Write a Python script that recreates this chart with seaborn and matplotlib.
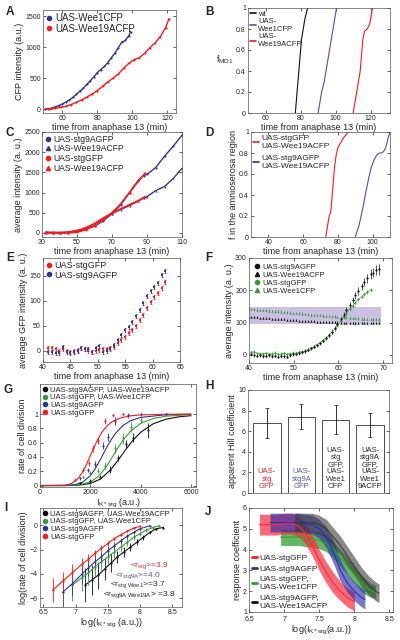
import numpy as np
import pandas as pd
import seaborn as sns
import matplotlib.pyplot as plt
from matplotlib.lines import Line2D

sns.set_style("ticks")
plt.rcParams['font.family'] = ['Liberation Sans', 'DejaVu Sans']
plt.rcParams['mathtext.fontset'] = 'custom'
plt.rcParams['mathtext.rm'] = 'Liberation Sans'
plt.rcParams['mathtext.it'] = 'Liberation Sans:italic'

RED = '#ff1a1a'
BLUE = '#34348f'
GREEN = '#3a9a3a'
BLACK = '#111111'
LAV = '#cbbfe3'

# ---- A: CFP intensity
a_time_wee1 = [50, 52, 54, 56, 58, 60, 62, 64, 66, 68, 70, 72, 74, 76, 78, 80, 82, 84, 86, 88, 90, 92, 94, 96, 98, 99]
a_wee1 = [0, 8, 20, 38, 60, 85, 115, 150, 190, 240, 290, 340, 400, 460, 520, 590, 640, 690, 750, 830, 900, 990, 1080, 1110, 1180, 1250]
a_time_wee19a = [50, 53, 56, 59, 62, 65, 68, 71, 74, 77, 80, 83, 86, 89, 92, 95, 98, 101, 104, 107, 110, 113, 116, 119, 121]
a_wee19a = [0, 5, 15, 30, 50, 75, 110, 150, 195, 245, 300, 370, 440, 500, 570, 660, 740, 800, 830, 900, 990, 1070, 1170, 1310, 1460]

# ---- B: fraction MD1
b_wt_t = [77, 77.5, 78, 78.5, 79, 79.5, 80, 80.5, 81.5, 82.5, 84]
b_wt_f = [0, 0.1, 0.2, 0.3, 0.4, 0.5, 0.6, 0.7, 0.8, 0.9, 1.0]
b_wee1_t = [90, 91, 92, 93.5, 94.5, 95.5, 96.5, 97.5, 98.5, 99.5, 100.5]
b_wee1_f = [0, 0.1, 0.2, 0.3, 0.4, 0.5, 0.6, 0.7, 0.8, 0.9, 1.0]
b_wee19a_t = [110, 111, 112, 113, 114, 114.5, 115, 115.5, 116.5, 118, 119.5, 120.5, 121]
b_wee19a_f = [0, 0.1, 0.2, 0.3, 0.4, 0.5, 0.6, 0.7, 0.78, 0.8, 0.85, 0.95, 1.0]

# ---- C: average intensity
c_time_9a = [32, 36, 40, 45, 50, 55, 60, 65, 70, 75, 80, 85, 88, 90, 95, 100, 105, 110]
c_stg9a = [20, 15, 10, 20, 60, 100, 170, 300, 480, 700, 1000, 1300, 1420, 1450, 1620, 1900, 2150, 2420]
c_wee19a_9a = [10, 5, 0, 10, 40, 110, 230, 360, 480, 580, 680, 790, 860, 900, 1050, 1150, 1350, 1600]
c_time_stg = [32, 36, 40, 45, 50, 55, 60, 65, 70, 75, 80, 85, 89]
c_stg = [10, 5, 5, 0, 20, 80, 180, 320, 500, 720, 1000, 1280, 1480]
c_wee19a_stg = [0, 5, 10, 20, 60, 130, 230, 370, 490, 600, 700, 800, 900]

# ---- D: fraction in amnioserosa
d_red_t = [73, 73.5, 74, 75, 75.5, 76, 76.5, 77, 77.5, 78, 79, 80, 81, 82, 83, 84, 85, 86]
d_red_f = [0, 0.05, 0.1, 0.2, 0.22, 0.25, 0.35, 0.45, 0.55, 0.65, 0.78, 0.85, 0.88, 0.91, 0.94, 0.96, 0.98, 1.0]
d_blue_t = [90, 91, 92, 93, 94, 95, 96, 97, 98, 99, 100, 101, 102, 103, 104, 105, 106, 107, 108, 109, 110]
d_blue_f = [0, 0.05, 0.1, 0.17, 0.25, 0.33, 0.42, 0.5, 0.58, 0.65, 0.7, 0.74, 0.77, 0.79, 0.8, 0.8, 0.81, 0.83, 0.88, 0.95, 1.0]

# ---- E: GFP intensity
e_time = [41.0, 41.7, 42.3, 43.0, 43.7, 44.3, 45.0, 45.7, 46.3, 47.0, 47.7, 48.3, 49.0, 49.7, 50.3, 51.0, 51.7,
          52.3, 53.0, 53.7, 54.3, 55.0, 55.7, 56.3, 57.0, 57.7, 58.3, 59.0, 59.7, 60.3, 61.0, 61.7, 62.3]
e_stg = [5, 6, 3, 0, 3, 0, -2, 0, 2, 5, 3, -1, -3, 0, 2, 3, 4, 3, 8, 15, 22, 28, 36, 42, 50, 62, 72, 85, 97,
         108, 116, 125, 138]
e_stg9a = [-2, -3, -4, -4, 8, -2, -4, -3, -1, 5, 3, 3, -3, 6, 10, -2, 0, 5, 12, 22, 32, 42, 48, 58, 70, 82, 95,
           110, 120, 128, 135, 152, 160]
e_err = 4

# ---- F: average intensity, two colours
f_time = [40.5, 41.2, 41.8, 42.5, 43.2, 43.8, 44.5, 45.2, 45.8, 46.5, 47.2, 47.8, 48.5, 49.2, 49.8, 50.5, 51.2,
          51.8, 52.5, 53.2, 53.8, 54.5, 55.2, 55.8, 56.5, 57.2, 57.8, 58.5, 59.2, 59.8, 60.5, 61.2, 61.8, 62.5,
          63.2, 63.8, 64.5, 65.2, 65.8, 66.5, 67.2, 67.8, 68.5, 69.2]
f_stg9a = [2, 0, -2, 0, -3, -2, 0, -4, -2, -5, -3, -4, -6, 0, 2, 4, 6, 8, 12, 16, 20, 25, 30, 36, 44, 52, 62, 72,
           84, 96, 110, 125, 140, 155, 170, 185, 198, 212, 225, 238, 250, 255, 262, 265]
f_stg9a_err = [5] * 25 + [6, 6, 7, 7, 8, 8, 9, 9, 10, 10, 11, 12, 12, 13, 14, 15, 15, 16, 17]
f_wee19a = [118, 117, 116, 115, 115, 114, 113, 112, 112, 111, 110, 110, 109, 108, 108, 107, 106, 106, 105, 105,
            104, 104, 103, 103, 102, 102, 101, 101, 101, 100, 100, 100, 100, 100, 100, 100, 100, 100, 100, 100,
            100, 100, 99, 99]
f_stg = [8, 10, 5, 4, 3, 5, 2, 4, 6, 2, 3, 5, 2, 4, 6, 5, 8, 10, 12, 16, 20, 26, 32, 38, 45, 52, 60, 70, 80, 92,
         105, 118, 130, 142, 152, 162, 172, 180, 188, 195, 202]
f_wee1 = [142, 141, 140, 139, 139, 138, 137, 136, 135, 135, 134, 133, 132, 131, 130, 130, 129, 128, 127, 126,
          125, 124, 124, 123, 122, 121, 120, 119, 119, 118, 117, 116, 116, 115, 114, 114, 113, 112, 112, 111,
          111, 110, 110, 110]
f_band_x = [40, 69.5]
f_band_lo, f_band_hi = 95, 148

# ---- G: rate of cell division
g_red_x = [1400, 1700, 1950, 2100, 2300, 2600, 2900, 3300]
g_red_y = [0.08, 0.22, 0.31, 0.52, 0.63, 0.90, 0.98, 1.0]
g_red_e = [0.02, 0.03, 0.04, 0.05, 0.05, 0.04, 0.02, 0.01]
g_blue_x = [1600, 1900, 2200, 2500, 2700, 3000, 3500, 4000, 5000]
g_blue_y = [0.10, 0.22, 0.30, 0.56, 0.68, 0.90, 0.98, 1.0, 1.0]
g_blue_e = [0.02, 0.03, 0.04, 0.05, 0.05, 0.06, 0.03, 0.01, 0.01]
g_green_x = [1700, 2000, 2300, 2600, 3000, 3300, 3600, 4000, 5000]
g_green_y = [0.12, 0.18, 0.21, 0.28, 0.52, 0.66, 0.82, 0.92, 1.0]
g_green_e = [0.02, 0.03, 0.03, 0.05, 0.06, 0.08, 0.07, 0.05, 0.01]
g_black_x = [1600, 2000, 2400, 2800, 3100, 3400, 3700, 4300]
g_black_y = [0.03, 0.07, 0.12, 0.22, 0.39, 0.58, 0.67, 0.77]
g_black_e = [0.01, 0.02, 0.03, 0.05, 0.04, 0.06, 0.06, 0.10]
g_fit_red_x = [0, 1000, 1250, 1500, 1700, 1900, 2100, 2300, 2500, 2700, 2900, 3200, 3600, 4000, 5000, 6000]
g_fit_red_y = [0, 0.006, 0.028, 0.092, 0.192, 0.336, 0.5, 0.65, 0.766, 0.847, 0.90, 0.946, 0.975, 0.988, 0.997, 0.999]
g_fit_blue_x = [0, 1000, 1400, 1700, 2000, 2200, 2400, 2600, 2800, 3000, 3300, 3600, 4000, 5000, 6000]
g_fit_blue_y = [0, 0.001, 0.013, 0.049, 0.138, 0.237, 0.364, 0.5, 0.627, 0.73, 0.84, 0.907, 0.953, 0.99, 0.998]
g_fit_green_x = [0, 1000, 1500, 2000, 2300, 2600, 2800, 3050, 3300, 3600, 4000, 4500, 5000, 6000]
g_fit_green_y = [0, 0.0004, 0.007, 0.05, 0.122, 0.246, 0.355, 0.5, 0.635, 0.76, 0.87, 0.938, 0.97, 0.991]
g_fit_black_x = [0, 1000, 1500, 2000, 2400, 2800, 3100, 3400, 3700, 4000, 4500, 5000, 5500, 6000]
g_fit_black_y = [0, 0.0003, 0.0045, 0.029, 0.091, 0.217, 0.352, 0.5, 0.636, 0.745, 0.864, 0.927, 0.96, 0.977]

# ---- H: Hill coefficient
h_names = ['UAS-\nstg\nGFP', 'UAS-\nstg9A\nGFP', 'UAS-\nstg\nGFP,\nUAS-\nWee1\nCFP', 'UAS-\nstg9A\nGFP,\nUAS-\nWee1\n9ACFP']
h_values = [6.8, 7.4, 7.1, 6.6]
h_err = [1.5, 1.2, 1.4, 1.2]
h_text_colors = ['#d02a2a', '#5a5aa8', '#333333', '#222222']

# ---- I: log-log
i_red_x = [6.65, 6.8, 6.95, 7.1, 7.2, 7.3, 7.4, 7.5, 7.6, 7.7, 7.8, 7.9, 8.0]
i_red_y = [-5.3, -4.6, -3.9, -3.2, -2.8, -2.3, -1.9, -1.5, -1.1, -0.8, -0.5, -0.25, -0.1]
i_red_e = [1.0, 0.8, 0.7, 0.5, 0.4, 0.3, 0.25, 0.2, 0.15, 0.12, 0.1, 0.08, 0.06]
i_blue_x = [6.8, 6.95, 7.1, 7.2, 7.3, 7.4, 7.5, 7.6, 7.7, 7.8, 7.9, 8.0, 8.15]
i_blue_y = [-5.5, -4.8, -4.0, -3.5, -3.0, -2.6, -2.1, -1.7, -1.3, -0.9, -0.6, -0.3, -0.05]
i_blue_e = [1.2, 1.0, 0.8, 0.7, 0.6, 0.5, 0.4, 0.3, 0.25, 0.2, 0.15, 0.1, 0.05]
i_green_x = [6.95, 7.1, 7.2, 7.3, 7.4, 7.5, 7.6, 7.7, 7.8, 7.9, 8.0, 8.1, 8.2, 8.3]
i_green_y = [-4.9, -4.3, -3.9, -3.4, -3.0, -2.6, -2.2, -1.8, -1.4, -1.0, -0.7, -0.4, -0.2, -0.05]
i_green_e = [1.3, 1.1, 1.0, 0.8, 0.7, 0.6, 0.5, 0.4, 0.3, 0.25, 0.2, 0.15, 0.1, 0.05]
i_black_x = [7.15, 7.25, 7.35, 7.45, 7.55, 7.65, 7.75, 7.85, 7.95, 8.05, 8.15, 8.25, 8.35]
i_black_y = [-4.9, -4.5, -4.1, -3.6, -3.1, -2.6, -2.2, -1.8, -1.4, -1.0, -0.6, -0.3, -0.2]
i_black_e = [1.4, 1.2, 1.1, 0.9, 0.7, 0.5, 0.4, 0.3, 0.25, 0.2, 0.15, 0.1, 0.1]
i_notes = [r'<r$_{\rm stg}$>=3.9', r'<r$_{\rm stg9A}$>=4.0', r'<r$_{\rm stg\ Wee1}$>=3.7', r'<r$_{\rm stg9A\ Wee19A}$> =3.8']

# ---- J: response coefficient bands
j_red_x = [6.65, 6.8, 6.9, 7.0, 7.1, 7.2, 7.3, 7.4, 7.5, 7.6, 7.7, 7.8, 7.9, 8.0]
j_red_mid = [5.2, 5.2, 5.2, 5.25, 5.25, 5.15, 4.8, 4.2, 3.5, 2.9, 2.4, 2.0, 1.7, 1.5]
j_red_hw = [0.5, 0.5, 0.5, 0.5, 0.5, 0.5, 0.5, 0.5, 0.5, 0.5, 0.5, 0.45, 0.45, 0.45]
j_blue_x = [6.8, 6.9, 7.0, 7.1, 7.2, 7.3, 7.4, 7.5, 7.6, 7.7, 7.8, 7.9, 8.0, 8.1, 8.15]
j_blue_mid = [5.3, 5.3, 5.3, 5.3, 5.3, 5.25, 5.2, 5.0, 4.6, 3.9, 3.0, 2.4, 2.0, 1.7, 1.6]
j_blue_hw = [0.45, 0.45, 0.45, 0.45, 0.45, 0.45, 0.45, 0.45, 0.5, 0.55, 0.5, 0.45, 0.45, 0.45, 0.45]
j_green_x = [6.95, 7.0, 7.1, 7.2, 7.3, 7.4, 7.5, 7.6, 7.7, 7.8, 7.9, 8.0, 8.1, 8.2, 8.3]
j_green_mid = [4.6, 4.6, 4.6, 4.6, 4.55, 4.5, 4.45, 4.3, 4.0, 3.6, 3.2, 2.8, 2.4, 2.1, 1.95]
j_green_hw = [0.4, 0.4, 0.4, 0.4, 0.4, 0.4, 0.4, 0.4, 0.4, 0.4, 0.4, 0.4, 0.4, 0.35, 0.3]
j_black_x = [7.15, 7.2, 7.3, 7.4, 7.5, 7.6, 7.7, 7.8, 7.9, 8.0, 8.1, 8.2, 8.3, 8.35]
j_black_mid = [5.3, 5.3, 5.3, 5.3, 5.2, 5.0, 4.6, 4.2, 3.7, 3.2, 2.7, 2.3, 2.0, 1.9]
j_black_hw = [0.45, 0.45, 0.45, 0.45, 0.45, 0.45, 0.45, 0.45, 0.45, 0.45, 0.45, 0.45, 0.45, 0.45]

fig = plt.figure(figsize=(4, 6.4), dpi=100)
TIME = 'time from anaphase 13 (min)'
LS = 6.5


def panel(l, t, r, b):
    ax = fig.add_axes([l / 400, 1 - b / 640, (r - l) / 400, (b - t) / 640])
    ax.tick_params(direction='in', length=2, width=0.5, labelsize=5, pad=1.5, top=True, right=True)
    for s in ax.spines.values():
        s.set_linewidth(0.5)
        s.set_color('#555555')
    return ax


def labels(ax, xl, yl):
    ax.set_xlabel(xl, fontsize=LS, labelpad=0.5)
    ax.set_ylabel(yl, fontsize=LS, labelpad=1)


def leg(ax, handles, names, **kw):
    opts = dict(fontsize=6, frameon=False, handlelength=0.7, handletextpad=0.3,
                labelspacing=0.1, borderaxespad=0.2, borderpad=0.1, loc='upper left')
    opts.update(kw)
    return ax.legend(handles, names, **opts)


def dot(c, m='o', ms=3):
    return Line2D([], [], color=c, marker=m, linestyle='none', markersize=ms)


def seg(c, lw=1.2):
    return Line2D([], [], color=c, lw=lw)


# A
ax = panel(43, 10, 176, 113)
sns.lineplot(x=a_time_wee1, y=a_wee1, ax=ax, color=BLUE, marker='o', markersize=1.5, mew=0, lw=1)
sns.lineplot(x=a_time_wee19a, y=a_wee19a, ax=ax, color=RED, marker='o', markersize=1.5, mew=0, lw=1)
ax.set_xlim(49, 125)
ax.set_ylim(-60, 1600)
ax.set_xticks([60, 80, 100, 120])
ax.set_yticks([0, 500, 1000, 1500])
labels(ax, TIME, 'CFP intensity (a.u.)')
leg(ax, [dot(BLUE), dot(RED)], ['UAS-Wee1CFP', 'UAS-Wee19ACFP'], fontsize=7)

# B
ax = panel(248, 8, 390, 113)
sns.lineplot(x=b_wt_t, y=b_wt_f, ax=ax, color=BLACK, lw=0.8)
sns.lineplot(x=b_wee1_t, y=b_wee1_f, ax=ax, color='#5050a8', lw=0.8)
sns.lineplot(x=b_wee19a_t, y=b_wee19a_f, ax=ax, color=RED, lw=0.8)
ax.set_xlim(50, 131)
ax.set_ylim(0, 1)
ax.set_xticks([60, 80, 100, 120])
ax.set_yticks([0, 0.2, 0.4, 0.6, 0.8, 1])
ax.set_yticklabels(['0', '0.2', '0.4', '0.6', '0.8', '1'])
ax.set_xlabel(TIME, fontsize=LS, labelpad=0.5)
ax.set_ylabel(r'f$_{\rm MD1}$', fontsize=LS, rotation=0)
ax.yaxis.set_label_coords(-0.16, 0.45)
leg(ax, [seg(BLACK), seg('#5050a8'), seg(RED)], ['wt', 'UAS-\nWee1CFP', 'UAS-\nWee19ACFP'],
    fontsize=5.5, labelspacing=0.05)

# C
ax = panel(42, 132, 182, 237)
sns.lineplot(x=c_time_9a, y=c_stg9a, ax=ax, color=BLUE, marker='o', markersize=1.5, mew=0, lw=1)
sns.lineplot(x=c_time_9a, y=c_wee19a_9a, ax=ax, color=BLUE, marker='^', markersize=1.5, mew=0, lw=1)
sns.lineplot(x=c_time_stg, y=c_stg, ax=ax, color=RED, marker='o', markersize=1.5, mew=0, lw=1.2)
sns.lineplot(x=c_time_stg, y=c_wee19a_stg, ax=ax, color=RED, marker='^', markersize=1.5, mew=0, lw=1.2)
ax.set_xlim(30, 110)
ax.set_ylim(-100, 2500)
ax.set_xticks([30, 50, 70, 90, 110])
ax.set_yticks([0, 500, 1000, 1500, 2000, 2500])
labels(ax, TIME, 'average intensity (a. u.)')
leg(ax, [dot(BLUE), dot(BLUE, '^'), dot(RED), dot(RED, '^')],
    ['UAS-stg9AGFP', 'UAS-Wee19ACFP', 'UAS-stgGFP', 'UAS-Wee19ACFP'], fontsize=6.2)

# D
ax = panel(251, 132, 390, 237)
sns.lineplot(x=d_red_t, y=d_red_f, ax=ax, color=RED, lw=0.8)
sns.lineplot(x=d_blue_t, y=d_blue_f, ax=ax, color='#5050a8', lw=0.8)
ax.set_xlim(30, 110)
ax.set_ylim(0, 1)
ax.set_xticks([40, 60, 80, 100])
ax.set_yticks([0, 0.2, 0.4, 0.6, 0.8, 1])
ax.set_yticklabels(['0', '0.2', '0.4', '0.6', '0.8', '1'])
labels(ax, TIME, 'f in the amnioserosa region')
leg(ax, [seg(RED), seg(BLUE)], ['UAS-stgGFP\nUAS-Wee19ACFP', 'UAS-stg9AGFP\nUAS-Wee19ACFP'],
    fontsize=6, labelspacing=0.6)

# E
ax = panel(43, 258, 180, 362)
ax.errorbar(e_time, e_stg, yerr=e_err, fmt='none', ecolor=RED, elinewidth=0.6, capsize=0.8, capthick=0.5)
ax.errorbar(e_time, e_stg9a, yerr=e_err, fmt='none', ecolor=BLUE, elinewidth=0.6, capsize=0.8, capthick=0.5)
sns.scatterplot(x=e_time, y=e_stg, ax=ax, color=RED, s=3, linewidth=0, marker='s')
sns.scatterplot(x=e_time, y=e_stg9a, ax=ax, color=BLUE, s=3, linewidth=0, marker='s')
ax.set_xlim(40, 65)
ax.set_ylim(-22, 185)
ax.set_xticks([40, 45, 50, 55, 60, 65])
ax.set_yticks([0, 50, 100, 150])
labels(ax, TIME, 'average GFP intensity (a. u.)')
leg(ax, [dot(RED), dot(BLUE)], ['UAS-stgGFP', 'UAS-stg9AGFP'], fontsize=6.5)

# F
ax = panel(249, 258, 392, 363)
ax.fill_between(f_band_x, f_band_lo, f_band_hi, color=LAV, lw=0)
n_stg = len(f_stg)
ax.errorbar(f_time, f_wee1, yerr=4, fmt='^', color=GREEN, ms=1.6, mew=0, elinewidth=0.5, capsize=0.8, capthick=0.5)
ax.errorbar(f_time[:n_stg], f_stg, yerr=5, fmt='o', color=GREEN, ms=1.6, mew=0, elinewidth=0.5, capsize=0.8, capthick=0.5)
ax.errorbar(f_time, f_wee19a, yerr=3, fmt='^', color=BLACK, ms=1.6, mew=0, elinewidth=0.5, capsize=0.8, capthick=0.5)
ax.errorbar(f_time, f_stg9a, yerr=f_stg9a_err, fmt='o', color=BLACK, ms=1.6, mew=0, elinewidth=0.5, capsize=0.8, capthick=0.5)
sns.lineplot(x=f_time[:n_stg], y=f_stg, ax=ax, color=GREEN, lw=0.4)
ax.set_xlim(40, 72)
ax.set_ylim(-25, 300)
ax.set_xticks([40, 50, 60, 70])
ax.set_yticks([0, 100, 200, 300])
labels(ax, TIME, 'average intensity (a. u.)')
leg(ax, [dot(BLACK), dot(BLACK, '^'), dot(GREEN), dot(GREEN, '^')],
    ['UAS-stg9AGFP', 'UAS-Wee19ACFP', 'UAS-stgGFP', 'UAS-Wee1CFP'], fontsize=5.5, borderaxespad=0.6)

# G
ax = panel(40, 384, 196, 487)
for fx, fy, px, py, pe, c in [(g_fit_black_x, g_fit_black_y, g_black_x, g_black_y, g_black_e, BLACK),
                              (g_fit_green_x, g_fit_green_y, g_green_x, g_green_y, g_green_e, GREEN),
                              (g_fit_blue_x, g_fit_blue_y, g_blue_x, g_blue_y, g_blue_e, BLUE),
                              (g_fit_red_x, g_fit_red_y, g_red_x, g_red_y, g_red_e, RED)]:
    sns.lineplot(x=fx, y=fy, ax=ax, color=c, lw=0.8)
    ax.errorbar(px, py, yerr=pe, fmt='o', color=c, ms=1.6, mew=0, elinewidth=0.6, capsize=0.8, capthick=0.5)
ax.set_xlim(0, 6200)
ax.set_ylim(-0.02, 1.42)
ax.set_xticks([0, 2000, 4000, 6000])
ax.set_yticks([0, 0.2, 0.4, 0.6, 0.8, 1])
ax.set_yticklabels(['0', '0.2', '0.4', '0.6', '0.8', '1'])
labels(ax, r'I$_{\rm K*stg}$ (a.u.)', 'rate of cell division')
leg(ax, [dot(BLACK), dot(GREEN), dot(BLUE), dot(RED)],
    ['UAS-stg9AGFP, UAS-Wee19ACFP', 'UAS-stgGFP, UAS-Wee1CFP', 'UAS-stg9AGFP', 'UAS-stgGFP'],
    fontsize=5.5, labelspacing=0.05)

# H
ax = panel(248, 390, 389, 493)
sns.barplot(x=h_names, y=h_values, ax=ax, color='white', edgecolor='#333333', linewidth=0.6, width=0.8,
            errorbar=None, saturation=1)
ax.errorbar(range(len(h_values)), h_values, yerr=h_err, fmt='none', ecolor=BLACK, elinewidth=0.6,
            capsize=1.2, capthick=0.5)
for i, (name, c) in enumerate(zip(h_names, h_text_colors)):
    ax.text(i, 0.3, name, ha='center', va='bottom', fontsize=5.5, color=c, linespacing=1.05)
ax.set_xlim(-0.55, 3.55)
ax.set_ylim(0, 10)
ax.set_xticks([])
ax.set_yticks([0, 2, 4, 6, 8, 10])
ax.set_xlabel('')
ax.set_ylabel('apparent Hill coefficient', fontsize=LS, labelpad=1)

# I
ax = panel(40, 508, 182, 607)
for px, py, pe, c in [(i_black_x, i_black_y, i_black_e, BLACK), (i_green_x, i_green_y, i_green_e, GREEN),
                      (i_blue_x, i_blue_y, i_blue_e, BLUE), (i_red_x, i_red_y, i_red_e, RED)]:
    sns.lineplot(x=px, y=py, ax=ax, color=c, lw=0.8)
    ax.errorbar(px, py, yerr=pe, fmt='o', color=c, ms=1.6, mew=0, elinewidth=0.6, capsize=0.8, capthick=0.5)
for note, c, x, y in zip(i_notes, ['#d02a2a', '#5a5aa8', '#333333', '#222222'],
                         [8.45, 8.33, 8.4, 8.55], [-3.3, -4.1, -4.9, -5.7]):
    ax.text(x, y, note, ha='right', va='center', fontsize=6, color=c)
ax.set_xlim(6.45, 8.65)
ax.set_ylim(-6.7, 1.4)
ax.set_xticks([6.5, 7, 7.5, 8, 8.5])
ax.set_xticklabels(['6.5', '7', '7.5', '8', '8.5'])
ax.set_yticks([-6, -4, -2, 0])
labels(ax, r'log(I$_{\rm K*stg}$ (a.u.))', 'log(rate of cell division)')
leg(ax, [dot(BLACK), dot(GREEN), dot(BLUE), dot(RED)],
    ['UAS-stg9AGFP, UAS-Wee19ACFP', 'UAS-stgGFP, UAS-Wee1CFP', 'UAS-stg9AGFP', 'UAS-stgGFP'],
    fontsize=5.5, labelspacing=0.05)

# J
ax = panel(249, 508, 393, 612)
for jx, jm, jh, c, a in [(j_green_x, j_green_mid, j_green_hw, '#2ea02e', 0.75),
                         (j_red_x, j_red_mid, j_red_hw, '#ff2a3a', 0.7),
                         (j_blue_x, j_blue_mid, j_blue_hw, '#3030a8', 0.65),
                         (j_black_x, j_black_mid, j_black_hw, '#3a3a3a', 0.6)]:
    lo = [m - h for m, h in zip(jm, jh)]
    hi = [m + h for m, h in zip(jm, jh)]
    ax.fill_between(jx, lo, hi, color=c, alpha=a, lw=0)
    sns.lineplot(x=jx, y=jm, ax=ax, color=c, lw=0.8)
ax.set_xlim(6.5, 8.55)
ax.set_ylim(1, 6)
ax.set_xticks([6.5, 7, 7.5, 8, 8.5])
ax.set_xticklabels(['6.5', '7', '7.5', '8', '8.5'])
ax.set_yticks([1, 2, 3, 4, 5, 6])
ax.tick_params(axis='x', pad=3)
labels(ax, r'log(I$_{\rm K*stg}$(a.u.))', 'response coefficient')
leg(ax, [seg(RED, 2), seg(BLUE, 2), seg(GREEN, 2), seg(BLACK, 2)],
    ['UAS-stgGFP', 'UAS-stg9AGFP', 'UAS-stgGFP,\nUAS-Wee1CFP', 'UAS-stg9AGFP,\nUAS-Wee19ACFP'],
    loc='lower left', fontsize=6, labelspacing=0.4)

for letter, x, y in [('A', 6, 12), ('B', 205, 12), ('C', 6, 133), ('D', 205, 133), ('E', 6, 258),
                     ('F', 205, 258), ('G', 4, 390), ('H', 205, 386), ('I', 4, 508), ('J', 205, 512)]:
    fig.text(x / 400, 1 - y / 640, letter, fontsize=8.5, fontweight='bold', ha='left', va='center')

fig.savefig('out.png', dpi=100)
